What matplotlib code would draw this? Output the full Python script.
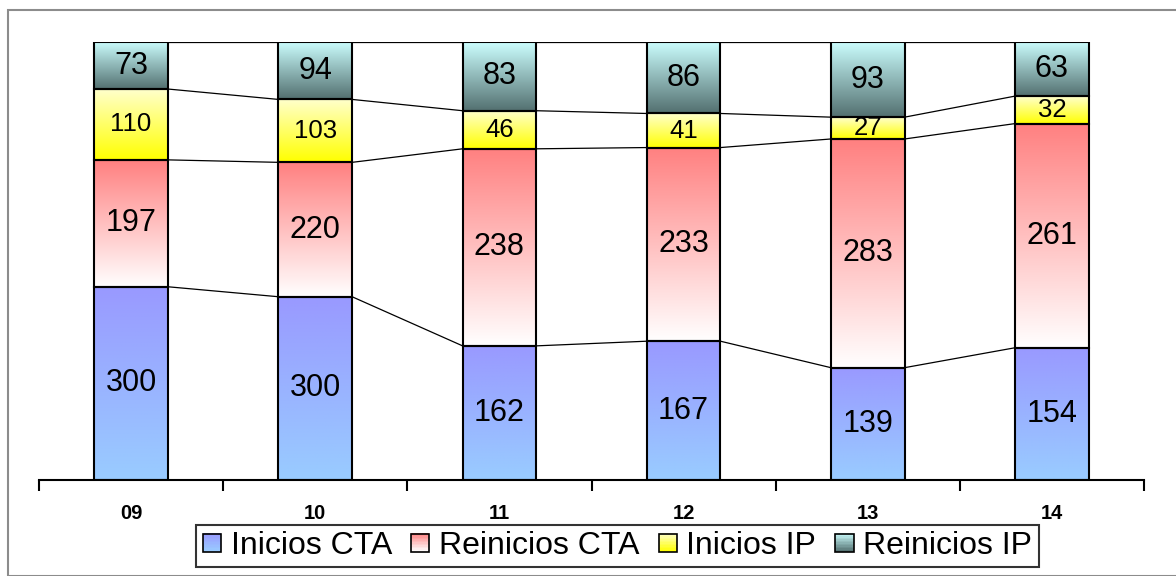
import numpy as np
import matplotlib
matplotlib.use("Agg")
import matplotlib.pyplot as plt
from matplotlib.patches import Rectangle
from matplotlib.legend_handler import HandlerBase
from matplotlib.colors import to_rgb

plt.rcParams['font.family'] = ['Liberation Sans', 'DejaVu Sans']

categories = ["09", "10", "11", "12", "13", "14"]
series_names = ["Inicios CTA", "Reinicios CTA", "Inicios IP", "Reinicios IP"]
inicios_cta = [300, 300, 162, 167, 139, 154]
reinicios_cta = [197, 220, 238, 233, 283, 261]
inicios_ip = [110, 103, 46, 41, 27, 32]
reinicios_ip = [73, 94, 83, 86, 93, 63]

# gradient colours (top, bottom)
grad_colors = [("#9999ff", "#99ccff"),
               ("#ff8080", "#ffffff"),
               ("#ffffcc", "#ffff00"),
               ("#ccffff", "#537070")]
label_sizes = [22, 22, 18.5, 22]

data = np.array([inicios_cta, reinicios_cta, inicios_ip, reinicios_ip], dtype=float)
totals = data.sum(axis=0)
frac = data / totals

W, H = 1176, 576
fig = plt.figure(figsize=(W / 100, H / 100), dpi=100)
ax = fig.add_axes([39 / W, 96 / H, (1144 - 39) / W, (480 - 42) / H])

x = np.arange(len(categories))
bw = 0.4
bottom = np.zeros(len(categories))


def grad_image(top, bot, n=256):
    t = np.array(to_rgb(top))
    b = np.array(to_rgb(bot))
    s = np.linspace(0, 1, n)[:, None]
    return (t * (1 - s) + b * s)[:, None, :]


for k in range(4):
    bars = ax.bar(x, frac[k], bw, bottom=bottom, facecolor='none',
                  edgecolor='black', linewidth=1.5, zorder=3)
    img = grad_image(*grad_colors[k])
    for i, p in enumerate(bars.patches):
        x0, y0 = p.get_x(), p.get_y()
        w, h = p.get_width(), p.get_height()
        im = ax.imshow(img, extent=[x0, x0 + w, y0, y0 + h], aspect='auto',
                       origin='upper', zorder=2, interpolation='bilinear')
        im.set_clip_path(p)
        ax.text(x0 + w / 2, y0 + h / 2, f"{int(data[k, i])}", ha='center',
                va='center', fontsize=label_sizes[k], zorder=4)
    bottom = bottom + frac[k]
    # series lines
    for i in range(len(categories) - 1):
        ax.plot([x[i] + bw / 2, x[i + 1] - bw / 2], [bottom[i], bottom[i + 1]],
                color='black', linewidth=0.9, zorder=1)

ax.set_xlim(-0.5, len(categories) - 0.5)
ax.set_ylim(0, 1)
for s in ['top', 'right', 'left']:
    ax.spines[s].set_visible(False)
ax.spines['bottom'].set_linewidth(1.5)
ax.set_yticks([])
ax.set_xticks(np.arange(-0.5, len(categories)), labels=[])
ax.tick_params(axis='x', which='major', direction='out', length=8, width=1.5)
ax.set_xticks(x, labels=categories, minor=True)
ax.tick_params(axis='x', which='minor', length=0, pad=17, labelsize=14.5)
for t in ax.get_xticklabels(minor=True):
    t.set_fontweight('bold')
ax.patch.set_alpha(0)


class GradHandler(HandlerBase):
    def __init__(self, top, bot):
        super().__init__()
        self.top, self.bot = top, bot

    def create_artists(self, legend, orig_handle, xdescent, ydescent, width,
                       height, fontsize, trans):
        size = min(width, height)
        x0 = -xdescent + (width - size) / 2
        y0 = -ydescent + (height - size) / 2
        arts = []
        n = 12
        t = np.array(to_rgb(self.top))
        b = np.array(to_rgb(self.bot))
        for j in range(n):
            s = (j + 0.5) / n
            c = t * (1 - s) + b * s
            arts.append(Rectangle((x0, y0 + size * (1 - (j + 1) / n)), size,
                                  size / n + 0.3, facecolor=c, edgecolor='none',
                                  transform=trans))
        arts.append(Rectangle((x0, y0), size, size, facecolor='none',
                              edgecolor='black', linewidth=1.2, transform=trans))
        return arts


handles = [Rectangle((0, 0), 1, 1) for _ in series_names]
hmap = {h: GradHandler(*grad_colors[k]) for k, h in enumerate(handles)}
leg = fig.legend(handles, series_names, loc='center',
                 bbox_to_anchor=(617.5 / W, 1 - 546 / H), ncol=4, fontsize=23,
                 handler_map=hmap, frameon=True, fancybox=False,
                 edgecolor='black', handlelength=0.57, handleheight=0.57,
                 handletextpad=0.3, columnspacing=0.6, borderpad=0.2,
                 borderaxespad=0)
leg.get_frame().set_linewidth(1.5)

fig.patches.append(Rectangle((8 / W, 0), 1.2, 1 - 10 / H, transform=fig.transFigure,
                             facecolor='none', edgecolor='#8c8c8c', linewidth=1.5,
                             zorder=0))

fig.savefig("out.png", dpi=100)
